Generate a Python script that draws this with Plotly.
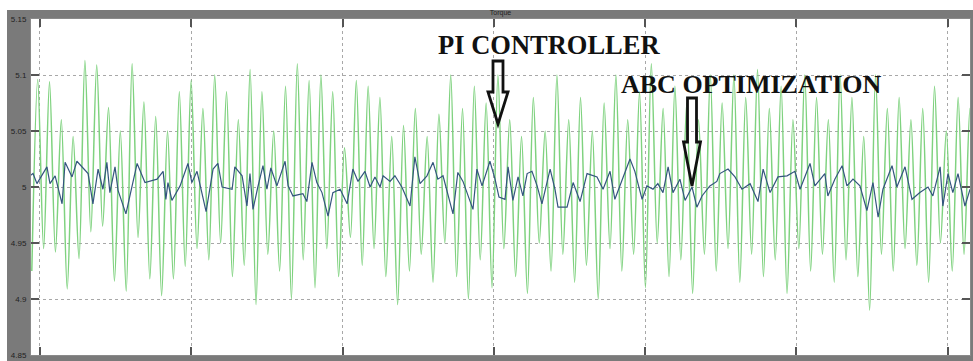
import plotly.graph_objects as go

# ---------------- data ----------------
# x tick positions (s) and their labels
x_tick_vals = [0.1765, 0.1770, 0.1775, 0.1780, 0.1785, 0.1790, 0.1795]
x_tick_text = ["0.1765", "0.177", "0.1775", "0.178", "0.1785", "0.179", "0.1795"]
y_tick_vals = [4.85, 4.90, 4.95, 5.00, 5.05, 5.10, 5.15]
y_tick_text = ["4.85", "4.9", "4.95", "5", "5.05", "5.1", "5.15"]

# PI controller torque (green), uniformly sampled
pi_t0_us = 176473
pi_dt_us = 19.5
pi_torque = [
    4.925, 5.096, 4.945, 5.094, 4.942, 5.060, 4.909, 5.045, 4.936, 5.113,
    4.960, 5.109, 4.965, 5.071, 4.916, 5.050, 4.907, 5.110, 4.955, 5.076,
    4.918, 5.063, 4.903, 5.050, 4.918, 5.085, 4.929, 5.095, 4.945, 5.070,
    4.935, 5.100, 4.950, 5.085, 4.920, 5.060, 4.930, 5.105, 4.895, 5.085,
    4.940, 5.050, 4.925, 5.090, 4.900, 5.110, 4.935, 5.095, 4.910, 5.100,
    4.945, 5.085, 4.920, 5.035, 4.955, 5.095, 4.930, 5.090, 4.945, 5.080,
    4.920, 5.045, 4.895, 5.055, 4.925, 5.070, 4.940, 5.045, 4.915, 5.065,
    4.950, 5.100, 4.920, 5.070, 4.900, 5.090, 4.935, 5.075, 4.910, 5.100,
    4.945, 5.060, 4.920, 5.045, 4.905, 5.080, 4.950, 5.050, 4.925, 5.100,
    4.940, 5.060, 4.915, 5.080, 4.930, 5.050, 4.900, 5.075, 4.945, 5.100,
    4.925, 5.060, 4.940, 5.085, 4.910, 5.110, 4.950, 5.070, 4.920, 5.090,
    4.935, 5.075, 4.905, 5.060, 4.940, 5.100, 4.925, 5.075, 4.945, 5.100,
    4.915, 5.080, 4.940, 5.105, 4.920, 5.070, 4.935, 5.090, 4.905, 5.060,
    4.945, 5.100, 4.925, 5.080, 4.940, 5.060, 4.915, 5.100, 4.935, 5.080,
    4.920, 5.045, 4.890, 5.100, 4.940, 5.070, 4.925, 5.080, 4.945, 5.060,
    4.930, 5.070, 4.915, 5.090, 4.950, 5.050, 4.925, 5.080, 4.940, 5.070,
    4.940,
]

# ABC optimised torque (blue): sample times (us) and values
abc_t_us = [
    176467, 176477, 176490, 176523, 176533, 176550, 176573, 176583, 176606, 176622,
    176659, 176675, 176692, 176708, 176721, 176731, 176748, 176758, 176784, 176821,
    176847, 176887, 176907, 176916, 176923, 176936, 176963, 176989, 177002, 177019,
    177049, 177072, 177088, 177102, 177135, 177144, 177168, 177184,
    177194, 177204, 177220, 177237, 177250, 177263, 177283, 177310, 177320, 177336,
    177369, 177382, 177399, 177415, 177432, 177452, 177468, 177492, 177515, 177534,
    177551, 177574, 177591, 177607, 177624, 177634, 177657, 177673, 177696, 177723,
    177739, 177756, 177779, 177799, 177815, 177832, 177865, 177881, 177898, 177931,
    177944, 177961, 177987, 178004, 178017,
    178037, 178047, 178063, 178080, 178096, 178110, 178126, 178143, 178159, 178186,
    178202, 178212, 178242, 178262, 178285, 178308, 178341, 178361, 178384, 178400,
    178427, 178450, 178466, 178490, 178506, 178526, 178542, 178559, 178576, 178592,
    178615, 178632, 178655, 178671, 178688, 178714, 178737,
    178747, 178774, 178797, 178820, 178847, 178873, 178890, 178913, 178939, 178969,
    178995, 179012, 179045, 179061, 179094, 179104, 179127, 179151, 179167, 179187,
    179210, 179233, 179253, 179270, 179286, 179316, 179332, 179359, 179382, 179408,
    179435, 179451, 179475, 179484, 179501, 179517, 179534, 179557, 179574,
]
abc_torque = [
    5.010, 5.012, 5.003, 5.018, 5.003, 5.010, 4.985, 5.022, 5.009, 5.023,
    5.012, 4.985, 5.016, 4.998, 5.022, 4.995, 5.018, 4.997, 4.976, 5.021,
    5.004, 5.007, 5.014, 4.989, 5.004, 4.988, 5.001, 5.021, 5.004, 5.014,
    4.978, 5.016, 5.021, 5.000, 4.998, 5.018, 5.010, 4.983,
    5.012, 4.980, 5.000, 5.019, 4.998, 5.017, 5.001, 5.023, 5.001, 4.992,
    4.994, 4.987, 5.022, 5.004, 4.995, 4.974, 4.995, 4.998, 4.985, 5.016,
    5.005, 5.014, 5.000, 5.009, 5.000, 5.010, 5.005, 5.010, 5.000, 4.983,
    5.027, 5.003, 5.010, 5.022, 5.007, 5.010, 4.976, 5.013, 5.005, 4.980,
    5.016, 5.001, 5.023, 5.007, 4.991,
    4.989, 5.018, 4.988, 5.009, 4.992, 5.012, 5.014, 5.001, 4.985, 5.016,
    4.998, 4.982, 4.982, 5.004, 4.987, 5.012, 5.009, 4.998, 5.014, 4.989,
    5.009, 5.025, 5.014, 4.989, 5.001, 4.998, 5.003, 4.995, 5.018, 4.995,
    5.007, 4.988, 5.000, 4.982, 4.992, 5.001, 5.005,
    5.012, 5.016, 5.009, 4.998, 5.003, 4.987, 5.016, 4.995, 5.009, 5.010,
    5.014, 4.998, 5.021, 5.001, 5.012, 4.992, 5.007, 5.019, 5.001, 5.007,
    5.001, 4.979, 5.004, 4.973, 4.998, 5.019, 5.000, 5.018, 4.989, 4.995,
    5.000, 4.992, 5.018, 4.983, 5.012, 4.995, 5.012, 4.983, 4.998,
]

x_range = [0.1764703, 0.1795737]
y_range = [4.85, 5.15]

# ---------------- figure ----------------
pi_x = [(pi_t0_us + i * pi_dt_us) * 1e-6 for i in range(len(pi_torque))]
abc_x = [t * 1e-6 for t in abc_t_us]

W, H = 973, 361
ML, MR, MT, MB = 31, 3, 19, 6
PW, PH = W - ML - MR, H - MT - MB


def px(x):
    return (x - ML) / PW


def py(y):
    return (H - MB - y) / PH


fig = go.Figure()
fig.add_trace(go.Scatter(
    x=pi_x, y=pi_torque, mode="lines", name="PI controller",
    line=dict(color="#7fd27f", width=1.5, shape="spline", smoothing=0.9),
))
fig.add_trace(go.Scatter(
    x=abc_x, y=abc_torque, mode="lines", name="ABC optimization",
    line=dict(color="#34557e", width=1.2),
))

shapes = [
    # white strips outside the gray scope frame
    dict(type="rect", xref="paper", yref="paper", x0=px(0), x1=px(W), y0=py(10), y1=py(0),
         fillcolor="white", line=dict(width=0), layer="below"),
    dict(type="rect", xref="paper", yref="paper", x0=px(0), x1=px(7), y0=py(H), y1=py(0),
         fillcolor="white", line=dict(width=0), layer="below"),
]


def block_arrow(xc, top, head_y, tip, half_shaft, half_head):
    pts = [(xc - half_shaft, top), (xc + half_shaft, top), (xc + half_shaft, head_y),
           (xc + half_head, head_y), (xc, tip), (xc - half_head, head_y),
           (xc - half_shaft, head_y)]
    path = "M " + " L ".join(f"{px(a):.5f},{py(b):.5f}" for a, b in pts) + " Z"
    return dict(type="path", xref="paper", yref="paper", path=path,
                line=dict(color="#111111", width=2.8), fillcolor="rgba(0,0,0,0)")


shapes.append(block_arrow(498, 61, 92, 124, 5, 10))
shapes.append(block_arrow(692, 98, 142, 186, 4.5, 8.5))

annotations = [
    dict(text="<b>PI CONTROLLER</b>", xref="paper", yref="paper", x=px(549), y=py(45),
         showarrow=False, font=dict(family="Liberation Serif", size=26.5, color="#111111"),
         xanchor="center", yanchor="middle"),
    dict(text="<b>ABC OPTIMIZATION</b>", xref="paper", yref="paper", x=px(751), y=py(85),
         showarrow=False, font=dict(family="Liberation Serif", size=26, color="#111111"),
         xanchor="center", yanchor="middle"),
]

axis_common = dict(
    automargin=False,
    showgrid=True, gridcolor="#a8a8a8", griddash="dot", gridwidth=1,
    showline=True, linecolor="#8a8a8a", linewidth=1, mirror="allticks",
    ticks="inside", ticklen=8, tickwidth=1.5, tickcolor="#555555",
    zeroline=False, tickfont=dict(family="Liberation Sans", size=8, color="#222222"),
)

fig.update_layout(
    template="none",
    width=W, height=H,
    margin=dict(l=ML, r=MR, t=MT, b=MB, pad=0, autoexpand=False),
    paper_bgcolor="#7a7a7a", plot_bgcolor="white",
    showlegend=False,
    title=dict(text="Torque", x=px(500.5), xref="paper", xanchor="center",
               y=1 - 13 / H, yanchor="middle", automargin=False,
               font=dict(family="Liberation Sans", size=7, color="#222222")),
    xaxis=dict(range=x_range, tickvals=x_tick_vals, ticktext=x_tick_text, **axis_common),
    yaxis=dict(range=y_range, tickvals=y_tick_vals, ticktext=y_tick_text,
               ticklabelstandoff=2, **axis_common),
    shapes=shapes, annotations=annotations,
)

fig.write_html(
    "out.html",
    config={"displayModeBar": False},
    post_script="document.body.style.margin='0px';document.body.style.overflow='hidden';",
)
